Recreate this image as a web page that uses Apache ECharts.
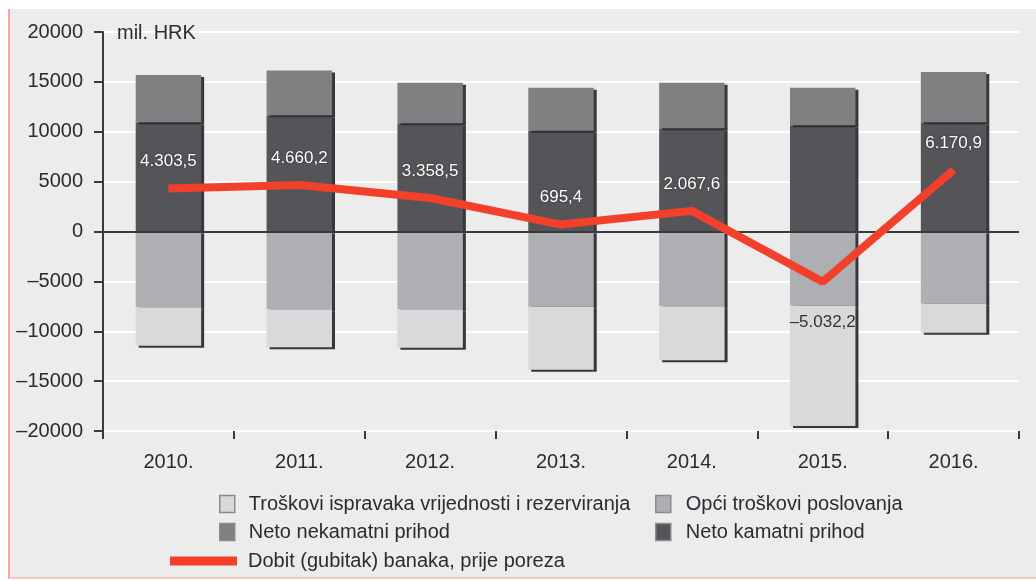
<!DOCTYPE html>
<html>
<head>
<meta charset="utf-8">
<script src="https://cdn.jsdelivr.net/npm/echarts@6/dist/echarts.min.js"></script>
<style>
  html, body { margin: 0; padding: 0; background: #fff; }
  #bg { position: absolute; left: 8px; top: 9px; width: 1028px; height: 568px;
        background: #ebeceb; border-left: 2px solid #f6a597; border-bottom: 2px solid #f8c9c1; }
  #chart { position: absolute; left: 0; top: 0; width: 1036px; height: 581px; }
</style>
</head>
<body>
<div id="bg"></div>
<div id="chart"></div>
<script>
// values in mil. HRK
const years = ["2010.", "2011.", "2012.", "2013.", "2014.", "2015.", "2016."];
const netoKamatni = [10950, 11650, 10850, 10100, 10350, 10650, 10950];
const netoNekamatni = [4750, 4500, 4050, 4300, 4550, 3750, 5050];
const opciTroskovi = [-7600, -7800, -7800, -7550, -7500, -7450, -7250];
const troskoviIspravaka = [-3850, -3800, -3850, -6300, -5400, -12050, -2900];
const dobit = [4303.5, 4660.2, 3358.5, 695.4, 2067.6, -5032.2, 6170.9];

const textColor = "#2b2b33";
const font = "Liberation Sans, Arial, sans-serif";

function fmtHr(v) {
  const parts = Math.abs(v).toFixed(1).split(".");
  const int = parts[0].replace(/\B(?=(\d{3})+(?!\d))/g, ".");
  return (v < 0 ? "\u2013" : "") + int + "," + parts[1];
}

const barShadow = {
  shadowColor: "rgba(45,45,50,0.95)",
  shadowOffsetX: 3,
  shadowOffsetY: 2,
  shadowBlur: 0
};

function barSeries(name, data, color) {
  return {
    name: name,
    type: "bar",
    stack: "total",
    barWidth: "50%",
    data: data,
    itemStyle: Object.assign({ color: color }, barShadow)
  };
}

const lineData = dobit.map(function (v) {
  if (v < 0) {
    return { value: v, label: { position: "bottom", distance: 32, color: "#333", textShadowBlur: 0 } };
  }
  return v;
});

function legendAt(name, left, top, w, h, pad) {
  return {
    data: [name],
    left: left,
    top: top,
    padding: 0,
    icon: "rect",
    itemWidth: w,
    itemHeight: h,
    itemGap: 0,
    selectedMode: false,
    textStyle: { fontSize: 20, color: textColor, fontFamily: font, padding: [0, 0, 0, pad] },
    itemStyle: { borderColor: "#8a8a8c", borderWidth: h > 10 ? 1.5 : 0, shadowBlur: 0, shadowOffsetX: 0, shadowOffsetY: 0 }
  };
}

const chart = echarts.init(document.getElementById("chart"));
chart.setOption({
  backgroundColor: "transparent",
  animation: false,
  textStyle: { fontFamily: font },
  title: {
    text: "mil. HRK",
    left: 112,
    top: 18,
    textStyle: { fontSize: 20, fontWeight: "normal", color: textColor, fontFamily: font }
  },
  grid: { left: 103, right: 17, top: 32, bottom: 150 },
  legend: [
    legendAt("Troškovi ispravaka vrijednosti i rezerviranja", 219, 494, 15, 17, 9),
    legendAt("Opći troškovi poslovanja", 655, 494, 15, 17, 10),
    legendAt("Neto nekamatni prihod", 219, 522, 15, 17, 9),
    legendAt("Neto kamatni prihod", 655, 522, 15, 17, 10),
    legendAt("Dobit (gubitak) banaka, prije poreza", 170, 551, 67, 9, 6)
  ],
  xAxis: {
    type: "category",
    data: years,
    axisLine: { show: false, onZero: false },
    axisTick: { show: true, length: 8, lineStyle: { color: "#3a3a3c", width: 2 } },
    axisLabel: { fontSize: 20, color: textColor, margin: 21, fontFamily: font }
  },
  yAxis: {
    type: "value",
    min: -20000,
    max: 20000,
    interval: 5000,
    axisLine: { show: true, lineStyle: { color: "#3a3a3c", width: 2 } },
    axisTick: { show: true, length: 9, lineStyle: { color: "#3a3a3c", width: 2 } },
    axisLabel: {
      fontSize: 20, color: textColor, margin: 20, fontFamily: font,
      formatter: function (v) { return String(v).replace("-", "\u2013"); }
    },
    splitLine: { show: true, lineStyle: { color: "#ffffff", width: 2 } }
  },
  series: [
    Object.assign(barSeries("Neto kamatni prihod", netoKamatni, "#555559"), {
      markLine: {
        silent: true,
        symbol: "none",
        label: { show: false },
        lineStyle: { color: "#3a3a3c", width: 2, type: "solid" },
        data: [{ yAxis: 0 }]
      }
    }),
    barSeries("Neto nekamatni prihod", netoNekamatni, "#808083"),
    barSeries("Opći troškovi poslovanja", opciTroskovi, "#aeafb2"),
    barSeries("Troškovi ispravaka vrijednosti i rezerviranja", troskoviIspravaka, "#d9d9db"),
    {
      name: "Dobit (gubitak) banaka, prije poreza",
      type: "line",
      data: lineData,
      symbol: "circle",
      symbolSize: 1,
      z: 5,
      itemStyle: { color: "#f2402a" },
      lineStyle: { color: "#f2402a", width: 8 },
      label: {
        show: true,
        position: "top",
        distance: 18,
        fontSize: 17,
        color: "#ffffff",
        textShadowColor: "rgba(0,0,0,0.6)",
        textShadowBlur: 2,
        fontFamily: font,
        formatter: function (p) { return fmtHr(p.value); }
      }
    }
  ]
});
</script>
</body>
</html>
